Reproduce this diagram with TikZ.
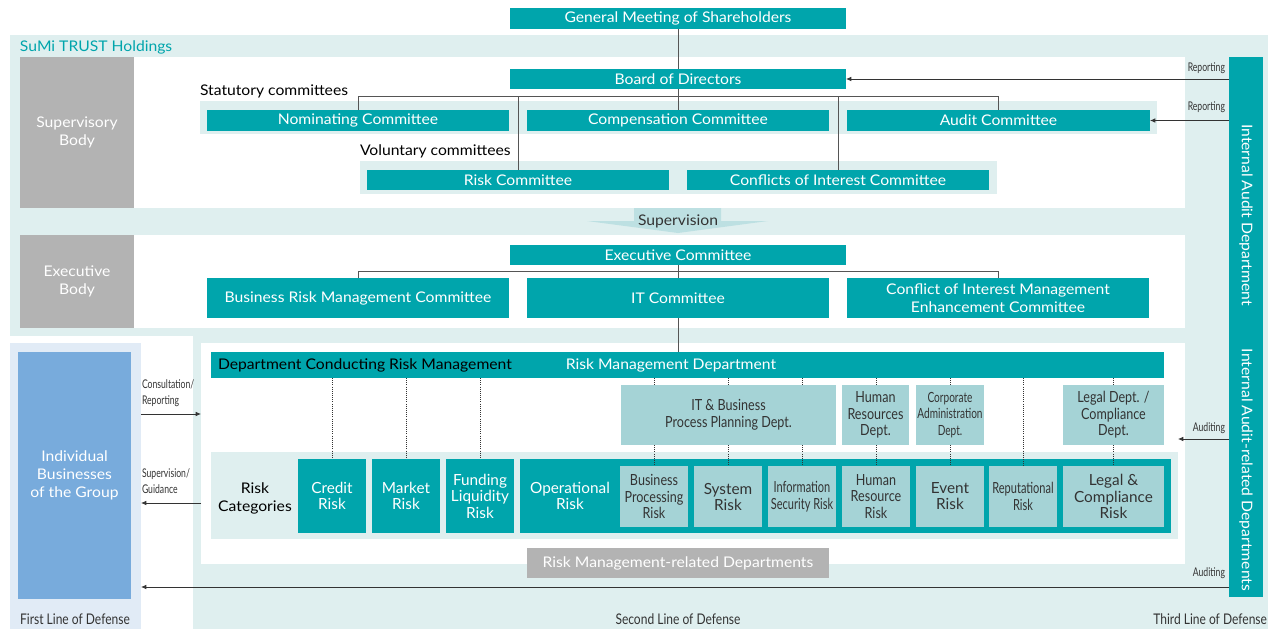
\documentclass[tikz,border=0pt]{standalone}
\usepackage{fontspec}
\setmainfont{Lato}
\newfontfamily\wide[FakeStretch=1.07]{Lato}
\newfontfamily\cond[FakeStretch=0.82]{Lato}
\newfontfamily\xcond[FakeStretch=0.72]{Lato}
\usetikzlibrary{arrows.meta}
\definecolor{tealC}{HTML}{00A5AC}
\definecolor{panelC}{HTML}{DFEFEF}
\definecolor{lightC}{HTML}{A5D3D6}
\definecolor{grayC}{HTML}{B3B3B3}
\definecolor{blueC}{HTML}{78ABDC}
\definecolor{flC}{HTML}{E1EBF6}
\definecolor{supC}{HTML}{BDE0E2}
\definecolor{lineC}{HTML}{555555}
\definecolor{txtC}{HTML}{333333}
\newcommand\bx[7]{\node[#2, minimum width={(#5-#3)*0.75pt}, minimum height={(#6-#4)*0.75pt}, anchor=north west] (#1) at (#3,#4) {#7};}
\newcommand\fmain{\wide\fontsize{11}{13.5}\selectfont}
\newcommand\frisk{\cond\fontsize{11.5}{12.4}\selectfont}
\newcommand\fxc{\xcond\fontsize{11.5}{12.4}\selectfont}
\tikzset{
  every node/.style={inner sep=0pt, outer sep=0pt},
  tbox/.style={fill=tealC, text=white, font=\fmain, align=center},
  gbox/.style={fill=grayC, text=white, font=\fmain, align=center},
  bbox/.style={fill=blueC, text=white, font=\fmain, align=center},
  lbox/.style={fill=lightC, text=txtC, font=\frisk, align=center},
  rbox/.style={fill=tealC, text=white, font=\frisk, align=center},
  ibox/.style={fill=lightC, text=txtC, font=\frisk, align=center},
  bg/.style={fill=panelC},
  conn/.style={draw=lineC, line width=0.6pt},
  arr/.style={draw=txtC, line width=0.6pt, -{Latex[length=4pt,width=3.5pt]}},
  dotl/.style={draw=txtC, line width=0.6pt, densely dotted},
  small/.style={text=txtC, font=\xcond\fontsize{9}{12}\selectfont, align=left},
  lbl/.style={text=txtC, font=\cond\fontsize{11}{13}\selectfont},
}
\begin{document}
\begin{tikzpicture}[x=0.75pt, y=-0.75pt]
\useasboundingbox (0,0) rectangle (1268,629);
% backgrounds
\bx{hold}{bg}{10}{35}{1268}{336}{}
\bx{sec}{bg}{193}{336}{1268}{629}{}
\bx{flp}{fill=flC}{10}{343}{141}{629}{}
\bx{supw}{fill=white}{134}{57}{1185}{208}{}
\bx{exew}{fill=white}{134}{235}{1185}{328}{}
\bx{wa}{fill=white}{201}{343}{1185}{564}{}
\node[anchor=west, text=tealC, font=\fmain] (holdlbl) at (20,47) {SuMi TRUST Holdings};
\bx{supb}{gbox}{20}{57}{134}{208}{Supervisory\\Body}
\bx{exeb}{gbox}{20}{235}{134}{328}{Executive\\Body}
% supervisory body
\bx{gms}{tbox}{510}{8}{846}{29}{General Meeting of Shareholders}
\bx{board}{tbox}{510}{69}{846}{89}{Board of Directors}
\node[anchor=west, font=\fmain, text=black] (statl) at (200,91) {Statutory committees};
\bx{statband}{bg}{200}{101}{1157}{134}{}
\bx{nom}{tbox}{207}{110}{509}{131}{Nominating Committee}
\bx{comp}{tbox}{527}{110}{829}{131}{Compensation Committee}
\bx{aud}{tbox}{847}{110}{1150}{131}{Audit Committee}
\node[anchor=west, font=\fmain, text=black] (voll) at (360,151) {Voluntary committees};
\bx{volband}{bg}{360}{161}{997}{194}{}
\bx{riskc}{tbox}{367}{170}{669}{190}{Risk Committee}
\bx{coi}{tbox}{687}{170}{989}{190}{Conflicts of Interest Committee}
\coordinate (sb) at (0,96);
\draw[conn] (gms.south) -- (board.north);
\draw[conn] (board.south) -- (comp.north);
\draw[conn] (nom.north) -- (nom.north |- sb) -- (aud.north |- sb) -- (aud.north);
\draw[conn] (riskc.north) -- (riskc.north |- sb);
\draw[conn] (coi.north) -- (coi.north |- sb);
% supervision arrow
\fill[supC] (634,208) -- (721,208) -- (721,221) -- (768,221) -- (678,233) -- (587,221) -- (634,221) -- cycle;
\node[text=txtC, font=\fmain] (supl) at (678,221) {Supervision};
% executive body
\bx{exec}{tbox}{510}{245}{846}{265}{Executive Committee}
\bx{brm}{tbox}{207}{278}{509}{318}{Business Risk Management Committee}
\bx{itc}{tbox}{527}{278}{829}{318}{IT Committee}
\bx{cim}{tbox}{847}{278}{1149}{318}{Conflict of Interest Management\\Enhancement Committee}
\coordinate (eb) at (0,271);
\draw[conn] (exec.south) -- (itc.north);
\draw[conn] (brm.north) -- (brm.north |- eb) -- (cim.north |- eb) -- (cim.north);
% second line
\bx{rmd}{tbox}{211}{352}{1164}{378}{}
\draw[conn] (itc.south) -- (itc.south |- rmd.north);
\node[anchor=west, text=black, font=\fmain] (rmdl) at (218,365) {Department Conducting Risk Management};
\node[text=white, font=\fmain] (rmdt) at (671,365) {Risk Management Department};
\bx{itd}{lbox}{621}{385}{836}{445}{IT \& Business\\Process Planning Dept.}
\bx{hrd}{lbox}{842}{385}{909}{445}{Human\\Resources\\Dept.}
\bx{cad}{lbox, font=\xcond\fontsize{10.5}{12.4}\selectfont}{916}{385}{984}{445}{Corporate\\Administration\\Dept.}
\bx{lgd}{lbox}{1063}{385}{1164}{445}{Legal Dept. /\\Compliance\\Dept.}
\bx{rband}{bg}{211}{452}{1178}{539}{}
\node[text=black, font=\fmain, align=center] (rcat) at (255,498) {Risk\\Categories};
\bx{cr}{rbox, font=\fontsize{11.5}{12}\selectfont}{298}{459}{366}{533}{Credit\\Risk}
\bx{mr}{rbox, font=\fontsize{11.5}{12}\selectfont}{372}{459}{440}{533}{Market\\Risk}
\bx{fr}{rbox, font=\fontsize{11.5}{12.4}\selectfont}{446}{459}{514}{533}{Funding\\Liquidity\\Risk}
\bx{op}{rbox}{520}{459}{1171}{533}{}
\node[text=white, font=\fontsize{11.5}{12}\selectfont, align=center] (opl) at (570,496) {Operational\\Risk};
\bx{bp}{ibox}{620}{466}{688}{527}{Business\\Processing\\Risk}
\bx{sy}{ibox, font=\fontsize{11.5}{12}\selectfont}{694}{466}{762}{527}{System\\Risk}
\bx{is}{ibox, font=\fxc}{768}{466}{836}{527}{Information\\Security Risk}
\bx{hr}{ibox}{842}{466}{910}{527}{Human\\Resource\\Risk}
\bx{ev}{ibox, font=\fontsize{11.5}{12}\selectfont}{916}{466}{984}{527}{Event\\Risk}
\bx{rp}{ibox, font=\fxc}{989}{466}{1057}{527}{Reputational\\Risk}
\bx{lc}{ibox, font=\fontsize{11.5}{12.4}\selectfont}{1063}{466}{1164}{527}{Legal \&\\Compliance\\Risk}
\bx{rmrd}{gbox}{527}{548}{829}{578}{Risk Management-related Departments}
% dotted links
\draw[dotl] (cr.north |- rmd.south) -- (cr.north);
\draw[dotl] (mr.north |- rmd.south) -- (mr.north);
\draw[dotl] (fr.north |- rmd.south) -- (fr.north);
\foreach \b/\d in {bp/itd, sy/itd, is/itd, hr/hrd, ev/cad, lc/lgd}{
  \draw[dotl] (\b.north |- rmd.south) -- (\b.north |- \d.north);
  \draw[dotl] (\b.north |- \d.south) -- (\b.north);
}
\draw[dotl] (rp.north |- rmd.south) -- (rp.north);
% first line
\bx{ind}{bbox}{18}{352}{131}{599}{Individual\\Businesses\\of the Group}
% internal audit
\bx{iad}{tbox}{1229}{57}{1263}{597}{}
\node[rotate=-90, text=white, font=\fmain] (iadt) at (1246,215) {Internal Audit Department};
\node[rotate=-90, text=white, font=\fmain] (iart) at (1246,470) {Internal Audit-related Departments};
% arrows
\draw[arr] (iad.west |- board.east) -- (board.east);
\draw[arr] (iad.west |- aud.east) -- (aud.east);
\node[small, anchor=south east] (rep1) at (1225,74) {Reporting};
\node[small, anchor=south east] (rep2) at (1225,113) {Reporting};
\coordinate (auE) at (1178,439);
\draw[arr] (iad.west |- auE) -- (auE);
\node[small, anchor=south east] (aud1) at (1225,434) {Auditing};
\coordinate (botY) at (0,587);
\draw[arr] (iad.west |- botY) -- (flp.east |- botY);
\node[small, anchor=south east] (aud2) at (1225,579) {Auditing};
\coordinate (conY) at (0,414);
\coordinate (supY) at (0,503);
\draw[arr] (flp.east |- conY) -- (wa.west |- conY);
\draw[arr] (wa.west |- supY) -- (flp.east |- supY);
\node[small, anchor=north west] (conl) at (142,380) {Consultation/\\Reporting};
\node[small, anchor=north west] (supgl) at (142,469) {Supervision/\\Guidance};
% line labels
\node[lbl] (l1) at (75,619) {First Line of Defense};
\node[lbl] (l2) at (678,619) {Second Line of Defense};
\node[lbl, anchor=east] (l3) at (1267,619) {Third Line of Defense};
\end{tikzpicture}
\end{document}
